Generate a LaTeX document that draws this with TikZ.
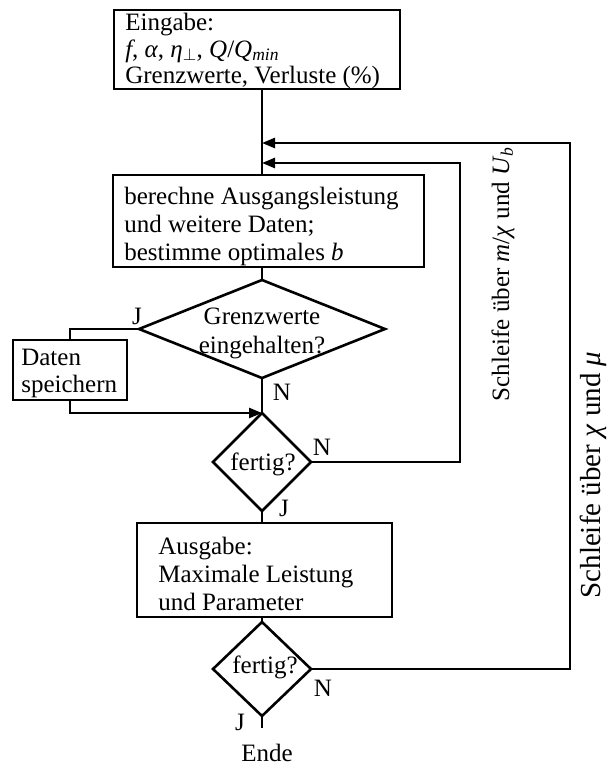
\documentclass[tikz,border=0pt]{standalone}
\usepackage{fontspec}
\setmainfont{Liberation Serif}
\usetikzlibrary{arrows.meta,shapes.geometric}
\begin{document}
\begin{tikzpicture}[x=1pt,y=-1pt,line width=2.6pt,line join=miter,
  box/.style={draw,rectangle,inner sep=0pt,outer sep=0pt},
  dia/.style={draw,diamond,inner sep=0pt,outer sep=0pt},
  txt/.style={inner sep=0pt,font=\fontsize{25}{27}\selectfont},
  arr/.style={-{Triangle[length=13pt,width=10pt]}}]
\useasboundingbox (0,0) rectangle (608,767);
% boxes
\node[box,minimum width=286pt,minimum height=79pt] (in) at (257,49.5) {};
\node[txt,anchor=west,align=left,font=\fontsize{25}{26.5}\selectfont] (intxt) at (124,51)
  {Eingabe:\\\textit{f}, \textit{α}, \textit{η}\textsubscript{$\perp$}, \textit{Q}/\textit{Q}\textsubscript{\textit{min}}\\Grenzwerte, Verluste (\%)};
\node[box,minimum width=311pt,minimum height=92pt] (calc) at (268.5,221) {};
\node[txt,anchor=west,align=left,font=\fontsize{25}{28}\selectfont] (calctxt) at (123,226)
  {berechne Ausgangsleistung\\und weitere Daten;\\bestimme optimales \textit{b}};
\node[dia,minimum width=246pt,minimum height=98pt] (d1) at (262,329) {};
\node[txt,align=center,font=\fontsize{25}{29}\selectfont] (d1txt) at (262,333) {Grenzwerte\\eingehalten?};
\node[box,minimum width=114pt,minimum height=60pt] (sv) at (70,370) {};
\node[txt,anchor=west,align=left] (svtxt) at (20,373) {Daten\\speichern};
\node[dia,minimum width=98pt,minimum height=98pt] (d2) at (262,462) {};
\node[txt] (d2txt) at (263,464) {fertig?};
\node[box,minimum width=255pt,minimum height=94pt] (out) at (264.5,570) {};
\node[txt,anchor=west,align=left,font=\fontsize{25}{28}\selectfont] (outtxt) at (157,574)
  {Ausgabe:\\Maximale Leistung\\und Parameter};
\node[dia,minimum width=98pt,minimum height=94pt] (d3) at (262,669) {};
\node[txt] (d3txt) at (265,667) {fertig?};
\node[txt] (ende) at (267,753) {Ende};
% labels
\node[txt] (j1) at (137,316) {J};
\node[txt] (n1) at (282,392) {N};
\node[txt] (n2) at (322,447) {N};
\node[txt] (j2) at (284,508) {J};
\node[txt] (n3) at (323,688) {N};
\node[txt] (j3) at (240,722) {J};
\node[txt,rotate=90] (l1) at (503,274) {Schleife über \textit{m}/\textit{χ} und \textit{U}\textsubscript{\textit{b}}};
\node[txt,rotate=90,font=\fontsize{29}{31}\selectfont] (l2) at (593,475) {Schleife über \textit{χ} und \textit{μ}};
% coordinates
\coordinate (m1) at (262,143);
\coordinate (m2) at (262,163);
\coordinate (ox) at (570,400);
\coordinate (ix) at (460,300);
\coordinate (endc) at (262,728);
% connectors
\draw (in.south -| d1.center) -- (calc.north -| d1.center);
\draw (calc.south -| d1.center) -- (d1.north);
\draw (d1.south) -- (d2.north);
\draw (d1.west) -| (sv.north);
\draw[arr] (sv.south) |- (d2.north);
\draw (d2.south) -- (out.north -| d2.south);
\draw (out.south -| d3.north) -- (d3.north);
\draw (d3.south) -- (endc);
\draw[arr] (d2.east) -| (ix) |- (m2);
\draw[arr] (d3.east) -| (ox) |- (m1);
\end{tikzpicture}
\end{document}
